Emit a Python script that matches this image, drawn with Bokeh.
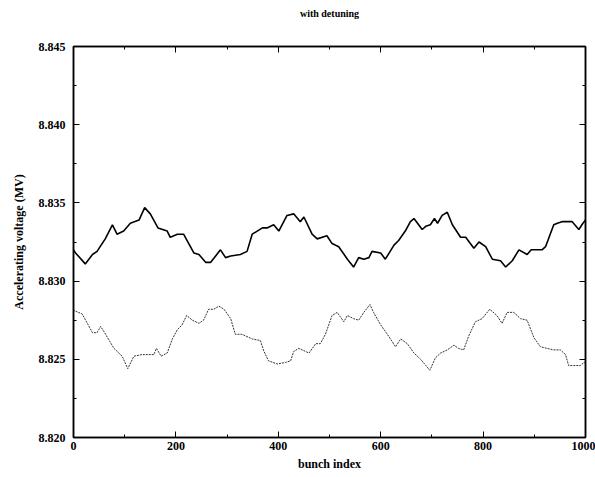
from bokeh.plotting import figure
from bokeh.embed import file_html
from bokeh.resources import INLINE
from bokeh.models import LinearAxis, PrintfTickFormatter, FixedTicker, Range1d

# ---- data ----
solid_x = [0, 4, 23, 37, 46, 62, 76, 85, 98, 111, 128, 139, 150, 165, 183, 189, 203, 215,
           235, 245, 258, 268, 287, 297, 307, 326, 339, 349, 369, 378, 391, 401, 417, 430,
           443, 450, 466, 476, 495, 505, 518, 535, 547, 557, 567, 577, 583, 600, 609, 626,
           635, 648, 658, 665, 681, 688, 697, 705, 711, 720, 730, 740, 756, 766, 782, 792,
           805, 818, 834, 844, 857, 870, 886, 894, 915, 922, 938, 945, 954, 974, 987, 995, 1000]
solid_y = [8.8320, 8.8318, 8.8311, 8.8317, 8.8319, 8.8327, 8.8336, 8.8330, 8.8332, 8.8337,
           8.8339, 8.8347, 8.8343, 8.8334, 8.8332, 8.8328, 8.8330, 8.8330, 8.8318, 8.8317,
           8.8312, 8.8312, 8.8320, 8.8315, 8.8316, 8.8317, 8.8319, 8.8330, 8.8334, 8.8334,
           8.8336, 8.8332, 8.8342, 8.8343, 8.8338, 8.8341, 8.8330, 8.8327, 8.8329, 8.8324,
           8.8322, 8.8314, 8.8309, 8.8315, 8.8314, 8.8315, 8.8319, 8.8318, 8.8314, 8.8323,
           8.8326, 8.8332, 8.8338, 8.8340, 8.8333, 8.8335, 8.8336, 8.8340, 8.8337, 8.8342,
           8.8344, 8.8336, 8.8328, 8.8328, 8.8321, 8.8325, 8.8322, 8.8314, 8.8313, 8.8309,
           8.8313, 8.8320, 8.8317, 8.8320, 8.8320, 8.8322, 8.8336, 8.8337, 8.8338, 8.8338,
           8.8333, 8.8337, 8.8339]

dashed_x = [0, 2, 17, 37, 46, 53, 59, 79, 95, 106, 118, 134, 147, 157, 162, 171, 183, 193,
            203, 212, 221, 232, 245, 254, 264, 274, 284, 294, 307, 316, 329, 349, 365, 372,
            381, 398, 414, 424, 430, 440, 460, 473, 482, 492, 505, 515, 528, 535, 547, 557,
            567, 579, 586, 600, 613, 629, 639, 652, 665, 678, 696, 707, 717, 730, 743, 752,
            762, 772, 785, 798, 813, 827, 837, 847, 860, 873, 886, 899, 912, 925, 938, 951,
            961, 967, 977, 990, 997, 1000]
dashed_y = [8.8282, 8.8281, 8.8279, 8.8267, 8.8267, 8.8271, 8.8268, 8.8257, 8.8252, 8.8244,
            8.8252, 8.8253, 8.8253, 8.8253, 8.8257, 8.8252, 8.8254, 8.8263, 8.8269, 8.8272,
            8.8278, 8.8275, 8.8273, 8.8275, 8.8282, 8.8282, 8.8284, 8.8282, 8.8276, 8.8266,
            8.8266, 8.8263, 8.8262, 8.8255, 8.8249, 8.8247, 8.8248, 8.8249, 8.8255, 8.8257,
            8.8254, 8.8260, 8.8260, 8.8266, 8.8278, 8.8280, 8.8274, 8.8278, 8.8276, 8.8275,
            8.8280, 8.8285, 8.8280, 8.8272, 8.8266, 8.8258, 8.8263, 8.8260, 8.8254, 8.8250,
            8.8243, 8.8251, 8.8254, 8.8256, 8.8259, 8.8257, 8.8256, 8.8265, 8.8274, 8.8276,
            8.8282, 8.8278, 8.8273, 8.8280, 8.8280, 8.8276, 8.8275, 8.8264, 8.8258, 8.8257,
            8.8256, 8.8256, 8.8253, 8.8246, 8.8246, 8.8246, 8.8248, 8.8248]

title_text = "with detuning"
x_ticks = [0, 200, 400, 600, 800, 1000]
x_minor = [0, 100, 200, 300, 400, 500, 600, 700, 800, 900, 1000]
y_ticks = [8.820, 8.825, 8.830, 8.835, 8.840, 8.845]
y_minor = [8.820, 8.8225, 8.825, 8.8275, 8.830, 8.8325, 8.835, 8.8375, 8.840, 8.8425, 8.845]

FONT = "Liberation Serif"

p = figure(width=595, height=477, output_backend="svg", toolbar_location=None,
           x_range=Range1d(0, 1000), y_range=Range1d(8.820, 8.845),
           frame_width=512, frame_height=391,
           min_border_left=73, min_border_right=10, min_border_top=46, min_border_bottom=40)

p.xgrid.visible = False
p.ygrid.visible = False
p.outline_line_color = "black"
p.outline_line_width = 1.5
p.background_fill_color = "white"
p.border_fill_color = "white"

p.line(solid_x, solid_y, line_color="black", line_width=1.6)
p.line(dashed_x, dashed_y, line_color="#333333", line_width=1.0, line_dash="2 1")

def style_axis(ax, show_labels=True):
    ax.axis_line_color = "black"
    ax.axis_line_width = 1.5
    ax.major_tick_in = 6
    ax.major_tick_out = 0
    ax.minor_tick_in = 3
    ax.minor_tick_out = 0
    ax.major_tick_line_color = "black"
    ax.minor_tick_line_color = "black"
    ax.major_label_text_font = FONT
    ax.major_label_text_font_style = "bold"
    ax.axis_label_text_font = FONT
    ax.axis_label_text_font_style = "bold"
    ax.axis_label_text_font_size = "12px"
    ax.axis_label_text_color = "black"
    if show_labels:
        ax.major_label_text_font_size = "12px"
        ax.major_label_text_color = "black"
    else:
        ax.major_label_text_font_size = "0px"
        ax.major_label_text_color = None
        ax.major_label_standoff = 0

xa = p.xaxis[0]
xa.ticker = FixedTicker(ticks=x_ticks, minor_ticks=x_minor)
xa.axis_label = "bunch index"
xa.major_label_standoff = 4
xa.axis_label_standoff = 4
style_axis(xa)

ya = p.yaxis[0]
ya.ticker = FixedTicker(ticks=y_ticks, minor_ticks=y_minor)
ya.formatter = PrintfTickFormatter(format="%.3f")
ya.axis_label = "Accelerating voltage (MV)"
ya.major_label_standoff = 8
ya.axis_label_standoff = 10
style_axis(ya)

# top axis: mirrored ticks, and its axis label serves as the chart title
top = LinearAxis(ticker=FixedTicker(ticks=x_ticks, minor_ticks=x_minor))
style_axis(top, show_labels=False)
top.axis_label = title_text
top.axis_label_text_font_size = "10px"
top.axis_label_standoff = 28
p.add_layout(top, "above")

right = LinearAxis(ticker=FixedTicker(ticks=y_ticks, minor_ticks=y_minor))
style_axis(right, show_labels=False)
p.add_layout(right, "right")

open("out.html", "w").write(file_html(p, INLINE))
